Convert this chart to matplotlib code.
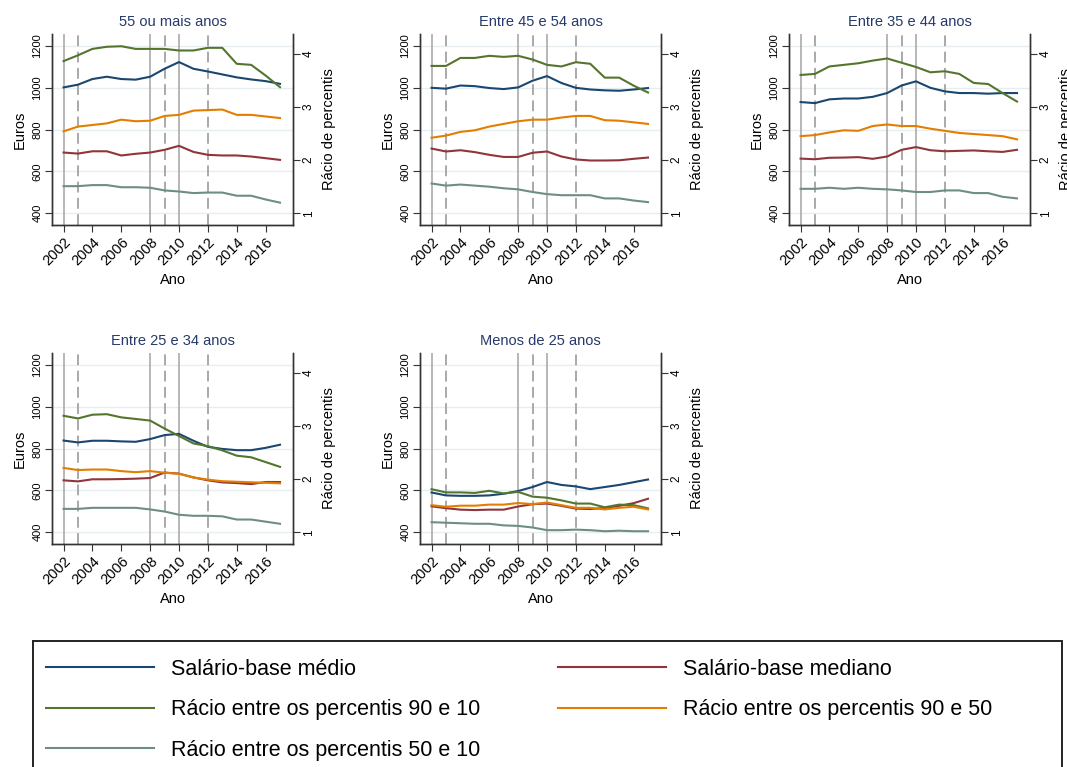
import matplotlib
matplotlib.use("Agg")
import matplotlib.pyplot as plt
from matplotlib.patches import Rectangle

plt.rcParams['font.family'] = ['Liberation Sans', 'DejaVu Sans']

years = list(range(2002, 2018))

titles = ["55 ou mais anos", "Entre 45 e 54 anos", "Entre 35 e 44 anos",
          "Entre 25 e 34 anos", "Menos de 25 anos"]

# Salário-base médio (euros)
medio_55 = [1001, 1014, 1041, 1052, 1041, 1038, 1052, 1090, 1122, 1090, 1077, 1063, 1049, 1039, 1031, 1018]
medio_45 = [999, 995, 1010, 1007, 998, 993, 1001, 1033, 1055, 1022, 999, 991, 987, 985, 991, 998]
medio_35 = [931, 926, 944, 948, 948, 956, 974, 1010, 1030, 999, 982, 974, 974, 971, 974, 974]
medio_25 = [838, 829, 837, 837, 834, 832, 845, 864, 870, 837, 808, 798, 792, 792, 803, 818]
medio_jov = [590, 576, 574, 574, 576, 584, 597, 616, 640, 626, 619, 606, 616, 626, 639, 652]

# Salário-base mediano (euros)
mediano_55 = [690, 685, 696, 696, 676, 684, 690, 703, 722, 693, 679, 676, 676, 671, 663, 655]
mediano_45 = [709, 695, 701, 692, 679, 669, 669, 689, 695, 671, 657, 652, 652, 653, 660, 666]
mediano_35 = [661, 658, 665, 666, 668, 660, 671, 703, 716, 701, 696, 698, 700, 696, 693, 703]
mediano_25 = [648, 643, 653, 653, 654, 656, 659, 685, 680, 662, 648, 638, 635, 630, 640, 640]
mediano_jov = [524, 515, 508, 506, 508, 508, 523, 534, 537, 526, 513, 511, 516, 526, 539, 560]

# rácio P90/P10
r9010_55 = [3.86, 3.97, 4.09, 4.13, 4.14, 4.09, 4.09, 4.09, 4.06, 4.06, 4.11, 4.11, 3.81, 3.79, 3.59, 3.37]
r9010_45 = [3.77, 3.77, 3.92, 3.92, 3.96, 3.94, 3.96, 3.89, 3.79, 3.76, 3.84, 3.81, 3.55, 3.55, 3.40, 3.27]
r9010_35 = [3.60, 3.62, 3.76, 3.79, 3.82, 3.87, 3.91, 3.83, 3.75, 3.65, 3.67, 3.62, 3.45, 3.43, 3.26, 3.10]
r9010_25 = [3.19, 3.14, 3.21, 3.22, 3.16, 3.13, 3.10, 2.95, 2.81, 2.67, 2.62, 2.54, 2.44, 2.41, 2.32, 2.23]
r9010_jov = [1.81, 1.75, 1.75, 1.74, 1.78, 1.73, 1.76, 1.67, 1.65, 1.60, 1.54, 1.54, 1.47, 1.52, 1.51, 1.45]

# rácio P90/P50
r9050_55 = [2.54, 2.63, 2.66, 2.69, 2.76, 2.73, 2.74, 2.83, 2.85, 2.93, 2.94, 2.95, 2.85, 2.85, 2.82, 2.79]
r9050_45 = [2.42, 2.46, 2.53, 2.56, 2.63, 2.68, 2.73, 2.76, 2.76, 2.80, 2.83, 2.83, 2.75, 2.74, 2.71, 2.68]
r9050_35 = [2.45, 2.47, 2.52, 2.56, 2.55, 2.64, 2.67, 2.64, 2.64, 2.59, 2.55, 2.51, 2.49, 2.47, 2.45, 2.39]
r9050_25 = [2.21, 2.17, 2.18, 2.18, 2.15, 2.13, 2.15, 2.12, 2.10, 2.03, 1.99, 1.96, 1.95, 1.94, 1.93, 1.92]
r9050_jov = [1.51, 1.48, 1.50, 1.50, 1.52, 1.52, 1.55, 1.53, 1.56, 1.51, 1.46, 1.46, 1.43, 1.46, 1.48, 1.43]

# rácio P50/P10
r5010_55 = [1.51, 1.51, 1.53, 1.53, 1.49, 1.49, 1.48, 1.43, 1.41, 1.38, 1.39, 1.39, 1.33, 1.33, 1.26, 1.20]
r5010_45 = [1.56, 1.52, 1.54, 1.52, 1.50, 1.47, 1.45, 1.40, 1.36, 1.34, 1.34, 1.34, 1.28, 1.28, 1.24, 1.21]
r5010_35 = [1.46, 1.46, 1.48, 1.46, 1.48, 1.46, 1.45, 1.43, 1.40, 1.40, 1.43, 1.43, 1.38, 1.38, 1.31, 1.28]
r5010_25 = [1.44, 1.44, 1.46, 1.46, 1.46, 1.46, 1.43, 1.39, 1.33, 1.31, 1.31, 1.30, 1.24, 1.24, 1.20, 1.16]
r5010_jov = [1.19, 1.18, 1.17, 1.16, 1.16, 1.13, 1.12, 1.09, 1.04, 1.04, 1.05, 1.04, 1.02, 1.03, 1.02, 1.02]

medio = [medio_55, medio_45, medio_35, medio_25, medio_jov]
mediano = [mediano_55, mediano_45, mediano_35, mediano_25, mediano_jov]
r9010 = [r9010_55, r9010_45, r9010_35, r9010_25, r9010_jov]
r9050 = [r9050_55, r9050_45, r9050_35, r9050_25, r9050_jov]
r5010 = [r5010_55, r5010_45, r5010_35, r5010_25, r5010_jov]

solid_years = [2002, 2008, 2010]
dashed_years = [2003, 2009, 2012]

labels = ["Salário-base médio", "Salário-base mediano",
          "Rácio entre os percentis 90 e 10", "Rácio entre os percentis 90 e 50",
          "Rácio entre os percentis 50 e 10"]
colors = ["#1a476f", "#90353b", "#55752f", "#e37e00", "#6e8e84"]

W, H = 1067, 767
fig = plt.figure(figsize=(W / 100, H / 100), dpi=100)

# panel boxes in pixels: left, top
boxes = [(52, 34), (420, 34), (789, 34), (52, 353), (420, 353)]
aw, ah = 241, 191

handles = []
for i, (px, py) in enumerate(boxes):
    ax = fig.add_axes([px / W, 1 - (py + ah) / H, aw / W, ah / H])
    ax2 = ax.twinx()

    for yv in range(400, 1201, 200):
        ax.axhline(yv, color="#e6eef1", lw=1.0, zorder=0)
    for x in solid_years:
        ax.axvline(x, color="#a3a3a3", lw=1.1, zorder=1)
    for x in dashed_years:
        ax.axvline(x, color="#a3a3a3", lw=1.3, dashes=(6, 3), zorder=1)

    l1, = ax.plot(years, medio[i], color=colors[0], lw=1.5, zorder=3)
    l2, = ax.plot(years, mediano[i], color=colors[1], lw=1.5, zorder=3)
    l3, = ax2.plot(years, r9010[i], color=colors[2], lw=1.5)
    l4, = ax2.plot(years, r9050[i], color=colors[3], lw=1.5)
    l5, = ax2.plot(years, r5010[i], color=colors[4], lw=1.5)
    if i == 0:
        handles = [l1, l2, l3, l4, l5]

    ax.set_xlim(2001.2, 2017.9)
    ax.set_ylim(344, 1256)
    ax2.set_ylim(0.78, 4.37)
    ax.set_xticks(range(2002, 2017, 2))
    ax.set_yticks(range(400, 1201, 200))
    ax2.set_yticks([1, 2, 3, 4])

    for a in (ax, ax2):
        a.spines['top'].set_visible(False)
        for s in ('left', 'right', 'bottom'):
            a.spines[s].set_color("#333333")
            a.spines[s].set_linewidth(1.0)
    ax.tick_params(axis='x', labelsize=10.5, length=5, color="#333333", pad=2)
    ax.tick_params(axis='y', labelsize=8, length=5, color="#333333", pad=2)
    ax2.tick_params(axis='y', labelsize=8.5, length=5, color="#333333", pad=2)
    for t in ax.get_xticklabels():
        t.set_rotation(45)
        t.set_ha('right')
        t.set_rotation_mode('anchor')
    for t in ax.get_yticklabels():
        t.set_rotation(90)
        t.set_va('center')
    for t in ax2.get_yticklabels():
        t.set_rotation(90)
        t.set_va('center')

    ax.set_xlabel("Ano", fontsize=10.5, labelpad=4)
    ax.set_ylabel("Euros", fontsize=10.5, labelpad=4)
    ax2.set_ylabel("Rácio de percentis", fontsize=10.5, labelpad=5)
    ax.set_title(titles[i], fontsize=10.5, color="#25396a", pad=6)

# legend frame
fig.add_artist(Rectangle((33 / W, -0.01), (1062 - 33) / W, 1 - 641 / H + 0.01,
                         transform=fig.transFigure, fill=False,
                         edgecolor="#222222", lw=1.4))

leg_kw = dict(frameon=False, fontsize=15.5, handlelength=5.0, handletextpad=0.8,
              labelspacing=0.9, borderpad=0, borderaxespad=0, loc='upper left')
fig.legend([handles[0], handles[2], handles[4]], [labels[0], labels[2], labels[4]],
           bbox_to_anchor=(46 / W, 1 - 659 / H), **leg_kw)
fig.legend([handles[1], handles[3]], [labels[1], labels[3]],
           bbox_to_anchor=(558 / W, 1 - 659 / H), **leg_kw)

fig.savefig("out.png", dpi=100)
